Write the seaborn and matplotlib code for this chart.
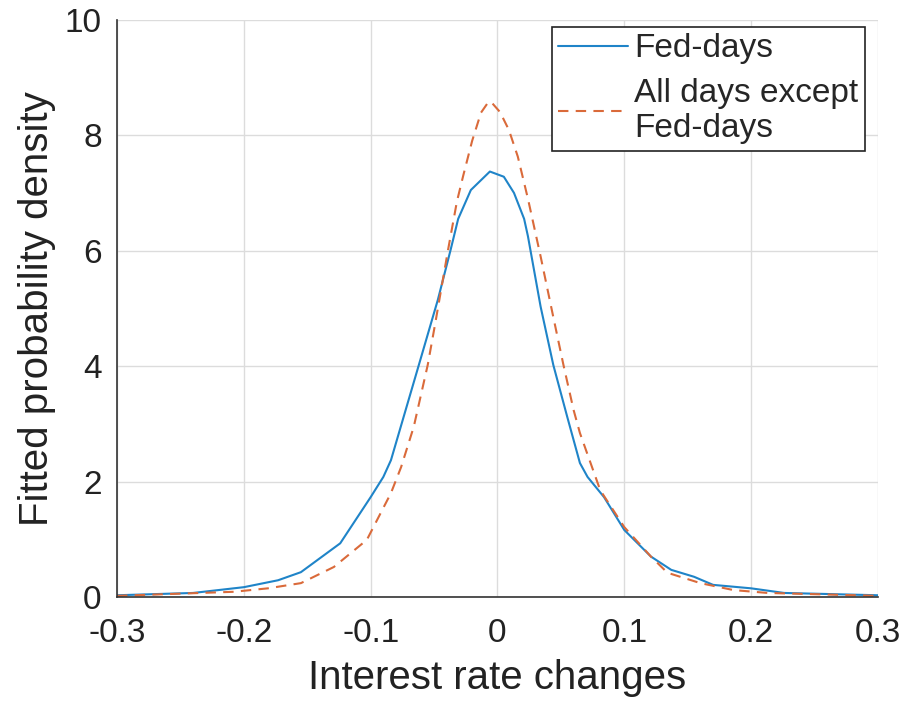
import numpy as np
import pandas as pd
import matplotlib
matplotlib.use('Agg')
import matplotlib.pyplot as plt
import seaborn as sns

# fitted densities
fed_x = [-0.300, -0.240, -0.200, -0.173, -0.155, -0.124, -0.100, -0.090, -0.084, -0.074,
         -0.062, -0.047, -0.037, -0.031, -0.021, -0.006, 0.005, 0.013, 0.021, 0.024,
         0.034, 0.044, 0.055, 0.065, 0.071, 0.084, 0.100, 0.121, 0.137, 0.155,
         0.170, 0.200, 0.226, 0.300]
fed_y = [0.03, 0.07, 0.17, 0.29, 0.43, 0.93, 1.73, 2.08, 2.37, 3.12,
         4.02, 5.15, 6.01, 6.55, 7.05, 7.37, 7.28, 7.00, 6.55, 6.25,
         5.03, 4.02, 3.12, 2.32, 2.08, 1.73, 1.16, 0.70, 0.47, 0.35,
         0.21, 0.15, 0.07, 0.03]

other_x = [-0.300, -0.208, -0.181, -0.155, -0.129, -0.103, -0.084, -0.076, -0.066, -0.055,
           -0.049, -0.039, -0.032, -0.027, -0.020, -0.013, -0.007, -0.004, 0.002, 0.009,
           0.016, 0.024, 0.030, 0.034, 0.044, 0.052, 0.060, 0.065, 0.081, 0.100,
           0.121, 0.134, 0.160, 0.186, 0.213, 0.300]
other_y = [0.02, 0.09, 0.15, 0.24, 0.52, 0.99, 1.80, 2.25, 2.95, 4.02,
           4.75, 6.01, 6.85, 7.30, 7.90, 8.39, 8.58, 8.55, 8.40, 8.09,
           7.63, 6.90, 6.30, 5.90, 4.85, 4.02, 3.24, 2.84, 1.85, 1.21,
           0.70, 0.42, 0.24, 0.12, 0.07, 0.02]

x_ticks = [-0.3, -0.2, -0.1, 0, 0.1, 0.2, 0.3]
x_labels = ['-0.3', '-0.2', '-0.1', '0', '0.1', '0.2', '0.3']
y_ticks = [0, 2, 4, 6, 8, 10]

sns.set_style('white')
plt.rcParams['font.family'] = ['Liberation Sans', 'DejaVu Sans']

fig = plt.figure(figsize=(9.07, 7.04), dpi=100)
ax = fig.add_axes([0.129, 0.152, 0.839, 0.820])

sns.lineplot(x=fed_x, y=fed_y, ax=ax, color='#1f84c8', linewidth=1.5,
             label='Fed-days', sort=False)
sns.lineplot(x=other_x, y=other_y, ax=ax, color='#da6a3a', linewidth=1.5,
             linestyle=(0, (5, 3.5)), label='All days except\nFed-days', sort=False)

ax.set_xlim(-0.3, 0.3)
ax.set_ylim(0, 10)
ax.set_xticks(x_ticks)
ax.set_xticklabels(x_labels)
ax.set_yticks(y_ticks)
ax.grid(True, color='#dcdcdc', linewidth=1.0)
ax.set_axisbelow(True)

for s in ['top', 'right']:
    ax.spines[s].set_visible(False)
for s in ['left', 'bottom']:
    ax.spines[s].set_color('#333333')
    ax.spines[s].set_linewidth(1.2)

ax.tick_params(direction='in', length=6, width=1.2, colors='#333333',
               labelsize=24, labelcolor='#222222')
ax.tick_params(axis='x', pad=15)
ax.tick_params(axis='y', pad=11)
ax.set_xlabel('Interest rate changes', fontsize=29, color='#222222', labelpad=7)
ax.set_ylabel('Fitted probability density', fontsize=29, color='#222222', labelpad=6)

leg = ax.legend(loc='upper right', bbox_to_anchor=(0.983, 0.988), fontsize=24,
                frameon=True, fancybox=False, handlelength=2.1, handletextpad=0.18,
                borderpad=0.2, labelspacing=0.4, borderaxespad=0)
leg.get_frame().set_edgecolor('#222222')
leg.get_frame().set_linewidth(1.2)
leg.get_frame().set_alpha(1)

fig.savefig('out.png', dpi=100)
